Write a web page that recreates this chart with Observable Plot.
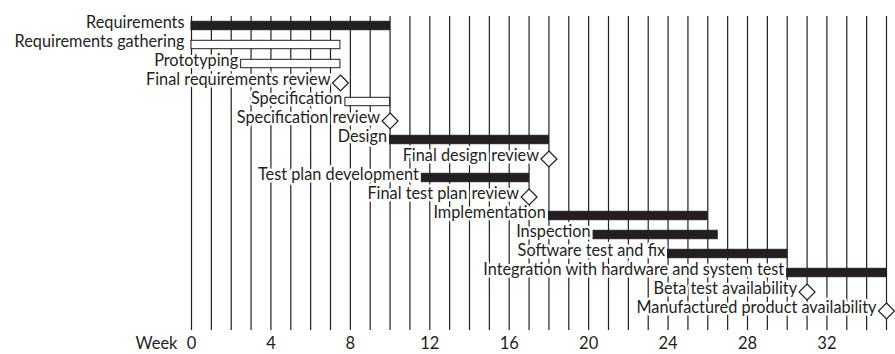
<!DOCTYPE html>
<html><head><meta charset="utf-8">
<script src="https://cdn.jsdelivr.net/npm/d3@7"></script>
<script src="https://cdn.jsdelivr.net/npm/@observablehq/plot@0.6"></script>
<style>body{margin:0;background:#fff;} #chart svg{display:block;}</style>
</head><body><div id="chart"></div>
<script>
const tasks = [
  "Requirements",
  "Requirements gathering",
  "Prototyping",
  "Final requirements review",
  "Specification",
  "Specification review",
  "Design",
  "Final design review",
  "Test plan development",
  "Final test plan review",
  "Implementation",
  "Inspection",
  "Software test and fix",
  "Integration with hardware and system test",
  "Beta test availability",
  "Manufactured product availability"
];
const startWeek = [0, 0, 2.5, 7.5, 7.75, 10, 10, 18, 11.6, 17, 18, 20.25, 24, 30, 31, 35];
const endWeek   = [10, 7.5, 7.5, null, 10, null, 18, null, 17, null, 26, 26.5, 30, 35, null, null];
const kind = ["filled","open","open","milestone","open","milestone","filled","milestone",
              "filled","milestone","filled","filled","filled","filled","milestone","milestone"];
const weeks = d3.range(0, 36);
const tickWeeks = [0, 4, 8, 12, 16, 20, 24, 28, 32];

const rows = tasks.map((t, i) => ({task: t, start: startWeek[i], end: endWeek[i], kind: kind[i]}));
const bars = rows.filter(d => d.kind !== "milestone");
const miles = rows.filter(d => d.kind === "milestone");

const font = "Lato, 'Open Sans', sans-serif";
const ink = "#231f20";
const fs = 16.3;
const labelStyle = {x: "start", y: "task", text: "task", textAnchor: "end", dy: -3,
  fill: ink, stroke: "white", strokeWidth: 5, fontSize: fs};

const chart = Plot.plot({
  width: 895,
  height: 354,
  marginLeft: 191,
  marginRight: 9,
  marginTop: 10,
  marginBottom: 29,
  style: {fontFamily: font, fontSize: fs + "px", color: ink, background: "#fff"},
  x: {domain: [0, 35]},
  y: {type: "band", domain: tasks, axis: null, padding: 0},
  marks: [
    Plot.ruleX(weeks, {stroke: ink, strokeWidth: 1.2, insetTop: 6, insetBottom: -5}),
    Plot.text(bars.filter(d => d.start === 0), {...labelStyle, dx: -7}),
    Plot.text(bars.filter(d => d.start !== 0), {...labelStyle, dx: -3}),
    Plot.text(miles, {...labelStyle, dx: -10}),
    Plot.barX(bars, {x1: "start", x2: "end", y: "task", insetTop: 5.3, insetBottom: 5.3,
      fill: d => d.kind === "open" ? "white" : ink, stroke: ink, strokeWidth: 1}),
    Plot.dot(miles, {x: "start", y: "task", symbol: "diamond2", r: 7.2,
      fill: "white", stroke: ink, strokeWidth: 1.2}),
    Plot.axisX(tickWeeks, {tickSize: 0, tickPadding: 12, fontSize: 16.5, fill: ink}),
    Plot.text(["Week"], {x: () => 0, frameAnchor: "bottom", dy: 12, dx: -14, text: d => d,
      lineAnchor: "top", textAnchor: "end", fontSize: 16.5, fill: ink})
  ]
});
document.getElementById("chart").appendChild(chart);
</script>
</body></html>
